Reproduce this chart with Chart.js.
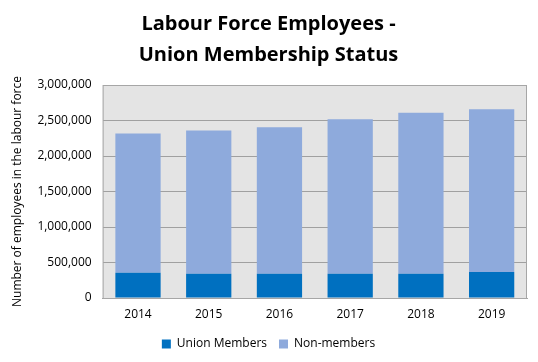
<!DOCTYPE html>
<html>
<head>
<meta charset="utf-8">
<script src="https://cdn.jsdelivr.net/npm/chart.js@4"></script>
<style>
  html, body { margin: 0; padding: 0; background: #fff; }
  #wrap { width: 538px; height: 362px; position: relative; }
</style>
</head>
<body>
<div id="wrap"><canvas id="grafica" width="538" height="362"></canvas></div>
<script>
const anios = ["2014", "2015", "2016", "2017", "2018", "2019"];
const sindicados = [355000, 340000, 340000, 340000, 340000, 365000];
const noSindicados = [1961000, 2019000, 2066000, 2179000, 2268000, 2295000];
const titulo = ["Labour Force Employees -", "Union Membership Status"];
const tituloEje = "Number of employees in the labour force";

// fondo gris del area de trazado
const fondoArea = {
  id: "fondoArea",
  beforeDraw(chart) {
    const { ctx, chartArea } = chart;
    ctx.save();
    ctx.fillStyle = "#e4e4e4";
    ctx.fillRect(chartArea.left, chartArea.top, chartArea.right - chartArea.left, chartArea.bottom - chartArea.top);
    ctx.restore();
  },
  afterDatasetsDraw(chart) {
    const { ctx, chartArea } = chart;
    ctx.save();
    ctx.strokeStyle = "#a6a6a6";
    ctx.lineWidth = 1;
    ctx.strokeRect(chartArea.left + 0.5, chartArea.top + 0.5, chartArea.right - chartArea.left - 1, chartArea.bottom - chartArea.top);
    ctx.restore();
  }
};

const config = {
  type: "bar",
  data: {
    labels: anios,
    datasets: [
      {
        label: "Union Members",
        data: sindicados,
        backgroundColor: "#0070c0",
        borderWidth: 0
      },
      {
        label: "Non-members",
        data: noSindicados,
        backgroundColor: "#8eaadc",
        borderWidth: 0
      }
    ]
  },
  options: {
    responsive: false,
    animation: false,
    layout: { padding: { left: 10, right: 11, top: 9, bottom: 2 } },
    datasets: { bar: { categoryPercentage: 1, barPercentage: 0.64 } },
    scales: {
      x: {
        stacked: true,
        grid: { display: false, drawTicks: false },
        border: { color: "#a6a6a6" },
        ticks: { color: "#000", font: { family: "Open Sans", size: 12 }, padding: 9 },
        afterFit(escala) {
          escala.height = 28;
        }
      },
      y: {
        stacked: true,
        min: 0,
        max: 3000000,
        grid: { color: "#a0a0a0", drawTicks: false },
        border: { display: false },
        ticks: {
          stepSize: 500000,
          color: "#000",
          padding: 11,
          font: { family: "Open Sans", size: 12 },
          callback: (v) => v.toLocaleString("en-US")
        },
        title: {
          display: true,
          text: tituloEje,
          color: "#000",
          font: { family: "Open Sans", size: 12 },
          padding: { top: 0, bottom: 2 }
        }
      }
    },
    plugins: {
      title: {
        display: true,
        text: titulo,
        color: "#000",
        font: { family: "Open Sans", size: 20, weight: "bold", lineHeight: 1.55 },
        padding: { top: 0, bottom: 14 }
      },
      legend: {
        position: "bottom",
        labels: {
          color: "#000",
          boxWidth: 9,
          boxHeight: 9,
          padding: 12,
          font: { family: "Open Sans", size: 12 }
        }
      },
      tooltip: { enabled: false }
    }
  },
  plugins: [fondoArea]
};

new Chart(document.getElementById("grafica"), config);
</script>
</body>
</html>
